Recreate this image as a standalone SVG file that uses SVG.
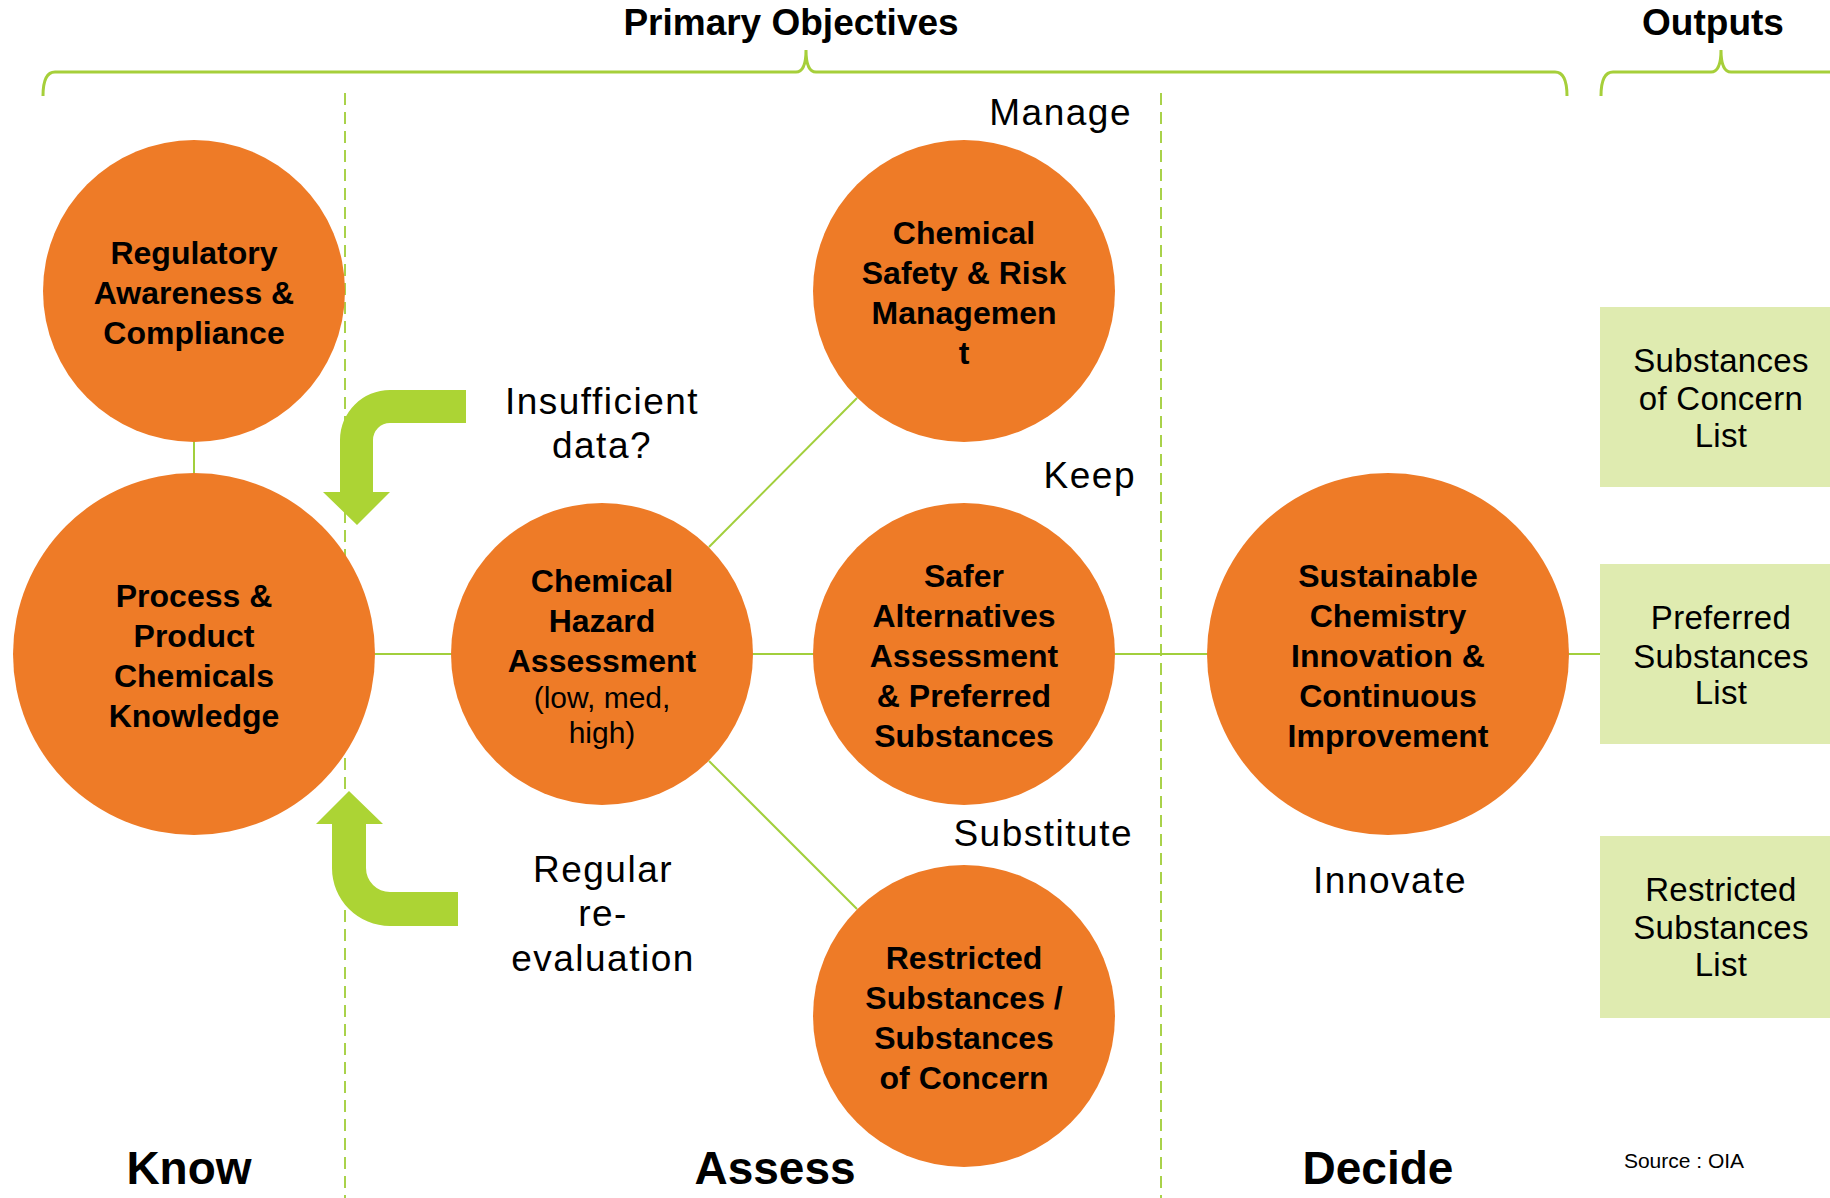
<svg xmlns="http://www.w3.org/2000/svg" width="1830" height="1198" viewBox="0 0 1830 1198">
<style>
.bg{fill:#ffffff}
.node{fill:#EE7B27}
.out{fill:#DFEBB0}
.t{font-family:"Liberation Sans",Arial,sans-serif;fill:#000;text-anchor:middle}
.b{font-weight:bold;font-size:32px}
.r{font-size:37px;letter-spacing:1.5px}
.ro{font-size:33px;letter-spacing:0.3px}
.hd{font-weight:bold;font-size:37px}
.ph{font-weight:bold;font-size:46px}
.conn{stroke:#A2CF3C;stroke-width:2;fill:none}
.dash{stroke:#A9D24A;stroke-width:2;stroke-dasharray:12 7;fill:none}
.brace{stroke:#A6CF3A;stroke-width:3;fill:none}
.arrow{fill:#ACD434}
</style>
<rect class="bg" x="0" y="0" width="1830" height="1198"/>

<g id="headers">
  <text class="t hd" x="791" y="35">Primary Objectives</text>
  <text class="t hd" x="1713" y="35">Outputs</text>
  <path class="brace" d="M43,96 Q43,72 55,72 L796,72 Q806,72 806,50 Q806,72 816,72 L1555,72 Q1567,72 1567,96"/>
  <path class="brace" d="M1601,96 Q1601,72 1613,72 L1711,72 Q1721,72 1721,50 Q1721,72 1731,72 L1830,72"/>
</g>

<g id="dividers">
  <line class="dash" x1="345" y1="93" x2="345" y2="1198"/>
  <line class="dash" x1="1161" y1="93" x2="1161" y2="1198"/>
</g>

<g id="connectors">
  <line class="conn" x1="375" y1="654" x2="1600" y2="654"/>
  <line class="conn" x1="194" y1="440" x2="194" y2="475"/>
  <line class="conn" x1="709" y1="547" x2="857" y2="398"/>
  <line class="conn" x1="709" y1="761" x2="857" y2="909"/>
</g>

<g id="feedback-arrows">
  <path class="arrow" d="M466,390 L390,390 A50,50 0 0 0 340,440 L340,492 L323,492 L357,525 L390,492 L373,492 L373,440 A17,17 0 0 1 390,423 L466,423 Z"/>
  <path class="arrow" d="M458,892 L390,892 A24,24 0 0 1 366,868 L366,824 L383,824 L349,791 L316,824 L332,824 L332,868 A58,58 0 0 0 390,926 L458,926 Z"/>
</g>

<g id="node-regulatory">
  <circle class="node" cx="194" cy="291" r="151"/>
  <text class="t b" x="194" y="264">Regulatory</text>
  <text class="t b" x="194" y="304">Awareness &amp;</text>
  <text class="t b" x="194" y="344">Compliance</text>
</g>

<g id="node-process">
  <circle class="node" cx="194" cy="654" r="181"/>
  <text class="t b" x="194" y="607">Process &amp;</text>
  <text class="t b" x="194" y="647">Product</text>
  <text class="t b" x="194" y="687">Chemicals</text>
  <text class="t b" x="194" y="727">Knowledge</text>
</g>

<g id="node-hazard">
  <circle class="node" cx="602" cy="654" r="151"/>
  <text class="t b" x="602" y="592">Chemical</text>
  <text class="t b" x="602" y="632">Hazard</text>
  <text class="t b" x="602" y="672">Assessment</text>
  <text class="t" x="602" y="708" font-size="30">(low, med,</text>
  <text class="t" x="602" y="743" font-size="30">high)</text>
</g>

<g id="node-safety">
  <circle class="node" cx="964" cy="291" r="151"/>
  <text class="t b" x="964" y="244">Chemical</text>
  <text class="t b" x="964" y="284">Safety &amp; Risk</text>
  <text class="t b" x="964" y="324">Managemen</text>
  <text class="t b" x="964" y="364">t</text>
</g>

<g id="node-safer">
  <circle class="node" cx="964" cy="654" r="151"/>
  <text class="t b" x="964" y="587">Safer</text>
  <text class="t b" x="964" y="627">Alternatives</text>
  <text class="t b" x="964" y="667">Assessment</text>
  <text class="t b" x="964" y="707">&amp; Preferred</text>
  <text class="t b" x="964" y="747">Substances</text>
</g>

<g id="node-restricted">
  <circle class="node" cx="964" cy="1016" r="151"/>
  <text class="t b" x="964" y="969">Restricted</text>
  <text class="t b" x="964" y="1009">Substances /</text>
  <text class="t b" x="964" y="1049">Substances</text>
  <text class="t b" x="964" y="1089">of Concern</text>
</g>

<g id="node-sustainable">
  <circle class="node" cx="1388" cy="654" r="181"/>
  <text class="t b" x="1388" y="587">Sustainable</text>
  <text class="t b" x="1388" y="627">Chemistry</text>
  <text class="t b" x="1388" y="667">Innovation &amp;</text>
  <text class="t b" x="1388" y="707">Continuous</text>
  <text class="t b" x="1388" y="747">Improvement</text>
</g>

<g id="output-soc">
  <rect class="out" x="1600" y="307" width="230" height="180"/>
  <text class="t ro" x="1721" y="372">Substances</text>
  <text class="t ro" x="1721" y="410">of Concern</text>
  <text class="t ro" x="1721" y="447">List</text>
</g>
<g id="output-preferred">
  <rect class="out" x="1600" y="564" width="230" height="180"/>
  <text class="t ro" x="1721" y="629">Preferred</text>
  <text class="t ro" x="1721" y="668">Substances</text>
  <text class="t ro" x="1721" y="704">List</text>
</g>
<g id="output-restricted">
  <rect class="out" x="1600" y="836" width="230" height="182"/>
  <text class="t ro" x="1721" y="901">Restricted</text>
  <text class="t ro" x="1721" y="939">Substances</text>
  <text class="t ro" x="1721" y="976">List</text>
</g>

<g id="labels">
  <text class="t r" x="602" y="414">Insufficient</text>
  <text class="t r" x="602" y="458">data?</text>
  <text class="t r" x="603" y="882">Regular</text>
  <text class="t r" x="603" y="926">re-</text>
  <text class="t r" x="603" y="971">evaluation</text>
  <text class="t r" x="1132" y="125" style="text-anchor:end">Manage</text>
  <text class="t r" x="1136" y="488" style="text-anchor:end">Keep</text>
  <text class="t r" x="1133" y="846" style="text-anchor:end">Substitute</text>
  <text class="t r" x="1390" y="893">Innovate</text>
  <text class="t ph" x="189" y="1184">Know</text>
  <text class="t ph" x="775" y="1184">Assess</text>
  <text class="t ph" x="1378" y="1184">Decide</text>
  <text class="t" x="1684" y="1168" font-size="21">Source : OIA</text>
</g>
</svg>
